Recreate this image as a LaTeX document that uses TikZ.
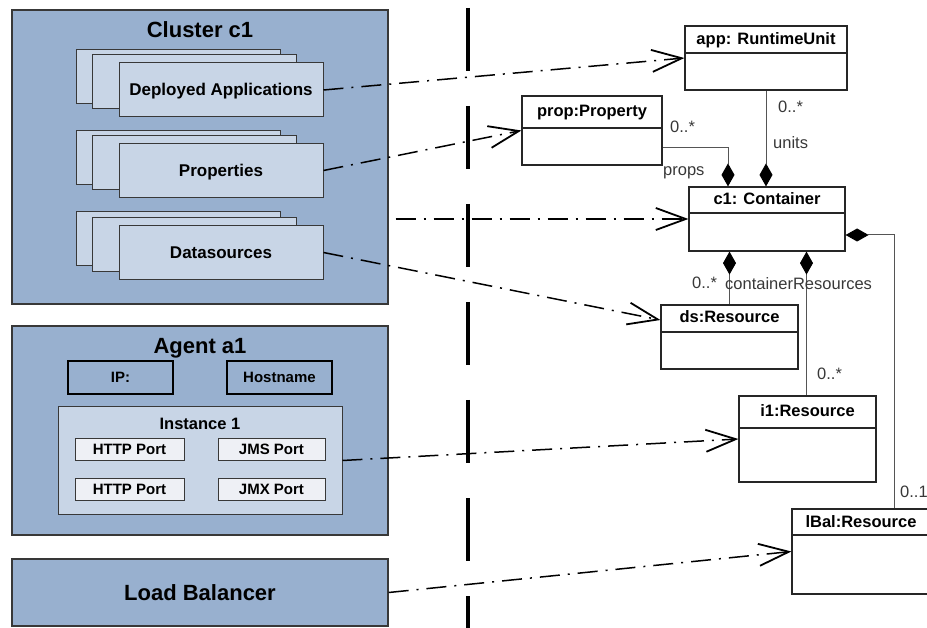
\documentclass[tikz,border=0pt]{standalone}
\usepackage{fontspec}
\setmainfont{Liberation Sans}
\usetikzlibrary{arrows.meta,positioning}

\definecolor{clusterblue}{HTML}{98B0CF}
\definecolor{stackblue}{HTML}{C8D5E6}
\definecolor{portgray}{HTML}{EEF0F5}
\definecolor{edgegray}{HTML}{383838}
\definecolor{linkgray}{HTML}{555555}

\tikzset{
  panel/.style={draw=edgegray, line width=1.3pt, fill=clusterblue, inner sep=0pt},
  paneltitle/.style={anchor=base, inner sep=0pt, font=\fontsize{22}{26}\selectfont\bfseries},
  stackbox/.style={draw=edgegray, line width=1pt, fill=stackblue, inner sep=0pt,
    minimum width=204pt, minimum height=54pt, text height=12pt, text depth=0pt,
    font=\fontsize{17}{20}\selectfont\bfseries},
  hostbox/.style={draw=black, line width=2.5pt, inner sep=0pt, minimum width=105pt,
    minimum height=33pt, font=\fontsize{15}{18}\selectfont\bfseries},
  portbox/.style={draw=edgegray, line width=1pt, fill=portgray, inner sep=0pt,
    minimum height=22pt, font=\fontsize{15}{18}\selectfont\bfseries},
  umlbox/.style={draw=black!85, line width=1.2pt, fill=white, inner sep=0pt},
  umltitle/.style={anchor=base, inner sep=0pt, font=\fontsize{16.5}{20}\selectfont\bfseries},
  rolelabel/.style={anchor=base west, inner sep=0pt, text=edgegray, font=\fontsize{16.5}{20}\selectfont},
  compline/.style={draw=linkgray, line width=1pt},
  mapline/.style={draw=black, line width=1.5pt, dash pattern=on 20pt off 8pt on 2pt off 8pt,
    -{Straight Barb[length=30pt, width=22pt, line width=1.8pt]}},
  sepline/.style={draw=black, line width=3.5pt, dash pattern=on 63pt off 35pt},
  diam/.style={{Diamond[length=23pt, width=13pt, color=black, fill=black]}-}
}

\begin{document}
\begin{tikzpicture}[x=1pt, y=-1pt]
  \useasboundingbox (0,0) rectangle (927,628);

  % cluster
  \node[panel, minimum width=376pt, minimum height=294pt] (cluster) at (200,157) {};
  \node[paneltitle] (clusterT) at (200,38) {Cluster c1};
  \node[stackbox] (deplA) at (178.5,76.5) {};
  \node[stackbox] (deplB) at (194,82) {};
  \node[stackbox] (depl) at (221,90) {Deployed Applications};
  \node[stackbox] (propsA) at (178.5,157.5) {};
  \node[stackbox] (propsB) at (194,163) {};
  \node[stackbox] (props) at (221,170.5) {Properties};
  \node[stackbox] (dsrcA) at (178.5,239) {};
  \node[stackbox] (dsrcB) at (194,245) {};
  \node[stackbox] (dsrc) at (221,252.5) {Datasources};

  % agent
  \node[panel, minimum width=376pt, minimum height=209pt] (agent) at (200,430.5) {};
  \node[paneltitle] (agentT) at (200,354) {Agent a1};
  \node[hostbox] (ip) at (120.5,377.5) {IP:};
  \node[hostbox] (host) at (279.5,377.5) {Hostname};
  \node[panel, fill=stackblue, line width=1pt, minimum width=284pt, minimum height=107pt] (inst) at (200,460.5) {};
  \node[inner sep=0pt, anchor=base, font=\fontsize{16.5}{20}\selectfont\bfseries] (instT) at (200,430) {Instance 1};
  \node[portbox, minimum width=109pt] (http1) at (129.5,449) {HTTP Port};
  \node[portbox, minimum width=107pt] (jms) at (271.5,449) {JMS Port};
  \node[portbox, minimum width=109pt] (http2) at (129.5,489.5) {HTTP Port};
  \node[portbox, minimum width=107pt] (jmx) at (271.5,489.5) {JMX Port};

  % load balancer
  \node[panel, minimum width=376pt, minimum height=67pt, font=\fontsize{22}{26}\selectfont\bfseries] (lb) at (200,592.5) {Load Balancer};

  % separator
  \coordinate (septop) at (468,8);
  \coordinate (sepbot) at (468,640);
  \draw[sepline] (septop) -- (sepbot);

  % model objects
  \node[umlbox, minimum width=162pt, minimum height=64pt] (app) at (766,58) {};
  \node[umltitle] (appT) at (766,45) {app: RuntimeUnit};
  \draw[umlbox] (app.west |- 0,53) -- (app.east |- 0,53);

  \node[umlbox, minimum width=140pt, minimum height=69pt] (prop) at (592,130.5) {};
  \node[umltitle] (propT) at (592,117) {prop:Property};
  \draw[umlbox] (prop.west |- 0,128) -- (prop.east |- 0,128);

  \node[umlbox, minimum width=156pt, minimum height=64pt] (c1) at (767,219) {};
  \node[umltitle] (c1T) at (767,205) {c1: Container};
  \draw[umlbox] (c1.west |- 0,213) -- (c1.east |- 0,213);

  \node[umlbox, minimum width=137pt, minimum height=64pt] (ds) at (729.5,337) {};
  \node[umltitle] (dsT) at (729.5,323) {ds:Resource};
  \draw[umlbox] (ds.west |- 0,332) -- (ds.east |- 0,332);

  \node[umlbox, minimum width=137pt, minimum height=86pt] (i1) at (807.5,439) {};
  \node[umltitle] (i1T) at (807.5,417) {i1:Resource};
  \draw[umlbox] (i1.west |- 0,428) -- (i1.east |- 0,428);

  \node[umlbox, minimum width=140pt, minimum height=85pt] (lbal) at (862,551.5) {};
  \node[umltitle] (lbalT) at (861,527) {lBal:Resource};
  \draw[umlbox] (lbal.west |- 0,535) -- (lbal.east |- 0,535);

  % compositions
  \draw[compline, diam] (app.south |- c1.north) -- (app.south);
  \draw[compline, diam] ([xshift=-39pt]c1.north) |- (prop.east |- 0,148);
  \draw[compline, diam] (ds.north |- c1.south) -- (ds.north);
  \draw[compline, diam] ([xshift=-1pt]i1.north |- c1.south) -- ([xshift=-1pt]i1.north);
  \draw[compline, diam] (c1.east |- 0,235) -| ([xshift=32pt]lbal.north);

  \node[rolelabel] (unitsM) at (778,113) {0..*};
  \node[rolelabel] (unitsR) at (773,149) {units};
  \node[rolelabel] (propsM) at (670,133) {0..*};
  \node[rolelabel] (propsR) at (663,176) {props};
  \node[rolelabel] (dsM) at (692,289) {0..*};
  \node[rolelabel] (resR) at (725,290) {containerResources};
  \node[rolelabel] (i1M) at (817,380) {0..*};
  \node[rolelabel] (lbalM) at (900,497) {0..1};

  % mappings
  \draw[mapline] (depl.east) -- (app.west);
  \draw[mapline] (props.east) -- (prop.west);
  \draw[mapline, shorten <=7pt] (cluster.east |- c1.west) -- (c1.west);
  \draw[mapline] (dsrc.east) -- ([yshift=17pt]ds.west);
  \draw[mapline] (inst.east) -- (i1.west);
  \draw[mapline] (lb.east) -- (lbal.west);
\end{tikzpicture}
\end{document}
